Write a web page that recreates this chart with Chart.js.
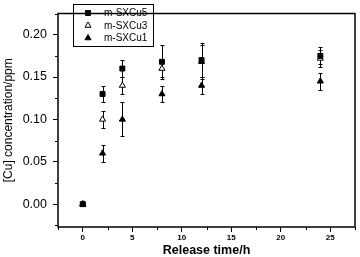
<!DOCTYPE html>
<html>
<head>
<meta charset="utf-8">
<script src="https://cdn.jsdelivr.net/npm/chart.js@4.4.1/dist/chart.umd.min.js"></script>
<style>
html, body { margin: 0; padding: 0; background: #fff; }
#wrap { width: 360px; height: 257px; }
</style>
</head>
<body>
<div id="wrap"><canvas id="myChart"></canvas></div>
<script>
// release time (h) and copper concentration (ppm)
const hours = [0, 2, 4, 8, 12, 24];
const cu5 = [0, 0.13, 0.16, 0.168, 0.17, 0.175];
const cu5Err = [0.002, 0.01, 0.01, 0.02, 0.02, 0.01];
const cu3 = [0, 0.10, 0.14, 0.16, 0.168, 0.172];
const cu3Err = [0.002, 0.01, 0.01, 0.01, 0.02, 0.01];
const cu1 = [0, 0.06, 0.10, 0.13, 0.14, 0.145];
const cu1Err = [0.002, 0.01, 0.02, 0.01, 0.01, 0.01];
const seriesNames = ["m-SXCu5", "m-SXCu3", "m-SXCu1"];
const xTicks = [0, 5, 10, 15, 20, 25];
const yTicks = [0, 0.05, 0.10, 0.15, 0.20];

const FONT = "'Liberation Sans', Arial, sans-serif";
const toPoints = (ys) => hours.map((h, i) => ({ x: h, y: ys[i] }));

const errorBars = {
    id: "errorBars",
    beforeDatasetsDraw(chart) {
        const { ctx, scales: { x, y } } = chart;
        ctx.save();
        ctx.strokeStyle = "#000";
        ctx.lineWidth = 1;
        chart.data.datasets.forEach((ds) => {
            ds.data.forEach((p, i) => {
                const e = ds.errors[i];
                const px = Math.round(x.getPixelForValue(p.x)) + 0.5;
                const top = Math.round(y.getPixelForValue(p.y + e)) + 0.5;
                const bot = Math.round(y.getPixelForValue(p.y - e)) + 0.5;
                ctx.beginPath();
                ctx.moveTo(px, top);
                ctx.lineTo(px, bot);
                ctx.moveTo(px - 2, top);
                ctx.lineTo(px + 2, top);
                ctx.moveTo(px - 2, bot);
                ctx.lineTo(px + 2, bot);
                ctx.stroke();
            });
        });
        ctx.restore();
    },
};

const frameAndLegend = {
    id: "frameAndLegend",
    afterDraw(chart) {
        const { ctx, chartArea: a, scales: { x, y } } = chart;
        ctx.save();
        ctx.strokeStyle = "#000";
        // minor ticks
        ctx.lineWidth = 1;
        ctx.beginPath();
        for (let v = -2.5; v <= 27.5; v += 5) {
            const px = Math.round(x.getPixelForValue(v)) + 0.5;
            ctx.moveTo(px, a.bottom);
            ctx.lineTo(px, a.bottom + 3);
        }
        for (let v = -0.025; v <= 0.226; v += 0.05) {
            const py = Math.round(y.getPixelForValue(v)) + 0.5;
            ctx.moveTo(a.left, py);
            ctx.lineTo(a.left - 3, py);
        }
        ctx.stroke();
        // frame
        ctx.lineWidth = 1.5;
        ctx.strokeRect(a.left, a.top, a.right - a.left, a.bottom - a.top);
        // legend
        ctx.lineWidth = 1;
        ctx.strokeRect(73.5, 4.5, 80, 42);
        ctx.font = "10px " + FONT;
        ctx.textBaseline = "middle";
        chart.data.datasets.forEach((ds, i) => {
            const cy = 13 + i * 12.5;
            ctx.fillStyle = ds.pointBackgroundColor;
            ctx.strokeStyle = "#000";
            ctx.lineWidth = 1;
            Chart.helpers.drawPoint(ctx, { pointStyle: ds.pointStyle, radius: ds.pointRadius, borderWidth: 1 }, 88, cy);
            ctx.fillStyle = "#000";
            ctx.fillText(seriesNames[i], 104, cy + 0.5);
        });
        ctx.restore();
    },
};

const makeSet = (i, ys, errs, style, fill, r) => ({
    label: seriesNames[i],
    data: toPoints(ys),
    errors: errs,
    pointStyle: style,
    pointRadius: r,
    pointBackgroundColor: fill,
    pointBorderColor: "#000",
    pointBorderWidth: 1,
    showLine: false,
});

new Chart(document.getElementById("myChart"), {
    type: "scatter",
    data: {
        datasets: [
            makeSet(0, cu5, cu5Err, "rect", "#000", 3.5),
            makeSet(1, cu3, cu3Err, "triangle", "#fff", 3.5),
            makeSet(2, cu1, cu1Err, "triangle", "#000", 3.5),
        ],
    },
    options: {
        responsive: true,
        maintainAspectRatio: false,
        animation: false,
        events: [],
        layout: { padding: { top: 2, right: 3, left: 0, bottom: 0 } },
        plugins: { legend: { display: false }, tooltip: { enabled: false } },
        scales: {
            x: {
                type: "linear",
                min: -2.5,
                max: 27.5,
                afterBuildTicks: (s) => { s.ticks = xTicks.map((v) => ({ value: v })); },
                afterFit: (s) => { s.height = 30; },
                border: { display: false },
                grid: { drawOnChartArea: false, tickLength: 5, tickColor: "#000", tickWidth: 1 },
                ticks: {
                    padding: 1,
                    color: "#000",
                    maxRotation: 0,
                    font: { family: FONT, size: 8, weight: "bold" },
                },
                title: {
                    display: true,
                    text: "Release time/h",
                    color: "#000",
                    padding: { top: 0, bottom: 0 },
                    font: { family: FONT, size: 12.5, weight: "bold", lineHeight: 1 },
                },
            },
            y: {
                min: -0.027,
                max: 0.225,
                afterBuildTicks: (s) => { s.ticks = yTicks.map((v) => ({ value: v })); },
                afterFit: (s) => { s.width = 58; },
                border: { display: false },
                grid: { drawOnChartArea: false, tickLength: 5, tickColor: "#000", tickWidth: 1 },
                ticks: {
                    padding: 6,
                    color: "#000",
                    callback: (v) => v.toFixed(2),
                    font: { family: FONT, size: 12.5 },
                },
                title: {
                    display: true,
                    text: "[Cu] concentration/ppm",
                    color: "#000",
                    padding: { top: 1, bottom: 0 },
                    font: { family: FONT, size: 12, lineHeight: 1.2 },
                },
            },
        },
    },
    plugins: [errorBars, frameAndLegend],
});
</script>
</body>
</html>
